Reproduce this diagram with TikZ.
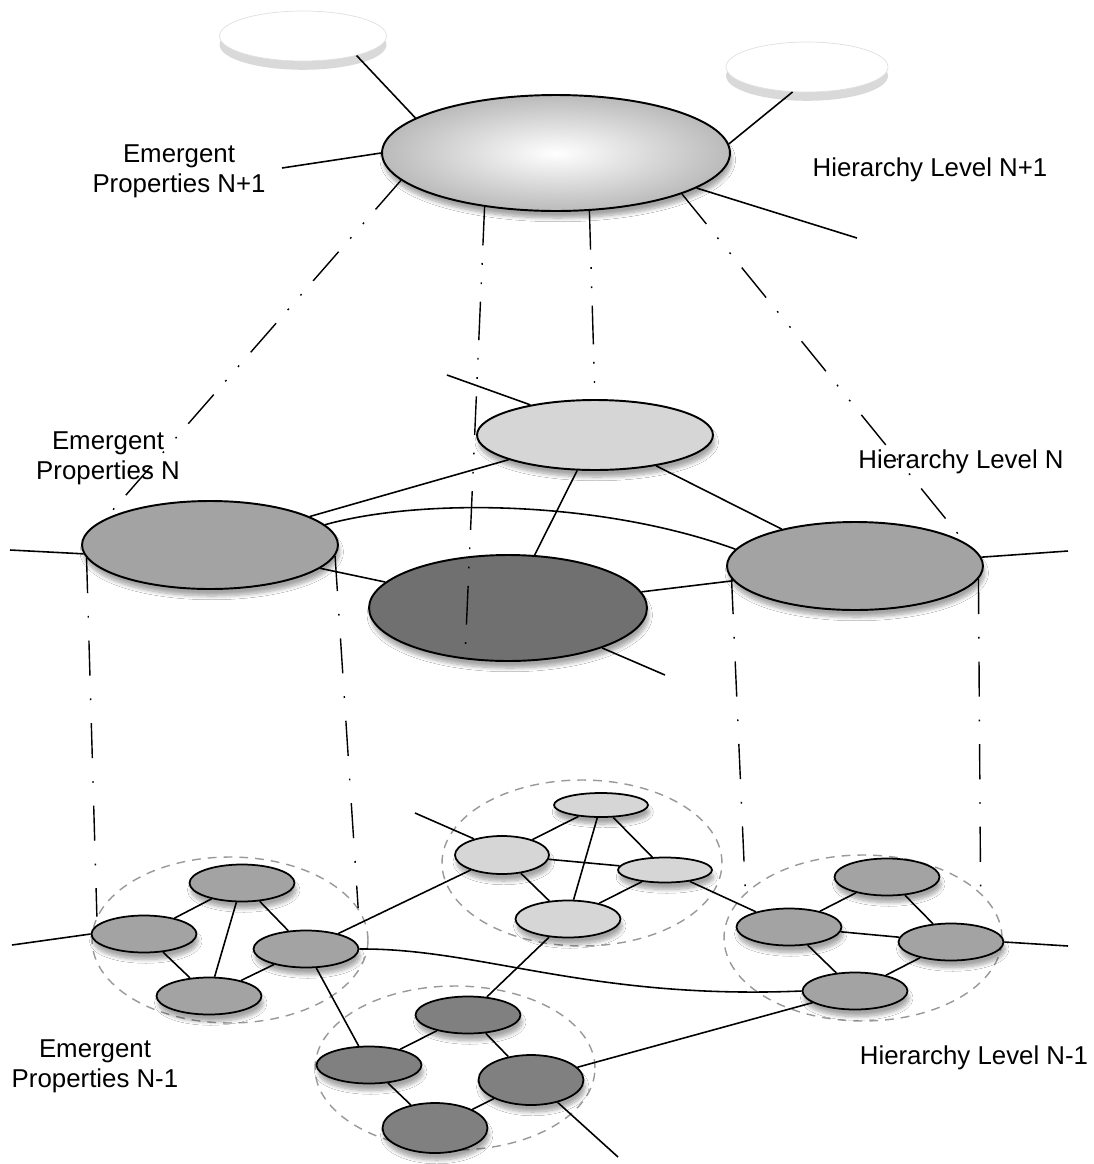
\documentclass[tikz,border=0pt]{standalone}
\usepackage{fontspec}
\setmainfont{Liberation Sans}
\usetikzlibrary{shapes.geometric, shadows, shadows.blur}

\definecolor{lightnode}{gray}{0.84}
\definecolor{midnode}{gray}{0.64}
\definecolor{darknode}{gray}{0.44}
\definecolor{subdark}{gray}{0.50}

\begin{document}
\begin{tikzpicture}[
    x=0.02cm, y=-0.02cm,
    %% plain ellipse with a soft shadow underneath
    blob/.style={ellipse, draw=black, line width=1.1pt, inner sep=0pt,
                 blur shadow={shadow xshift=1pt, shadow yshift=-4pt,
                              shadow blur steps=8, shadow opacity=35}},
    ghost/.style={ellipse, draw=black!12, fill=white, inner sep=0pt,
                  minimum width=3.34cm, minimum height=1.0cm,
                  drop shadow={shadow xshift=0pt, shadow yshift=-5pt,
                               fill=black!15, opacity=1}},
    topnode/.style={blob, shading=radial, inner color=white, outer color=black!27,
                    minimum width=6.96cm, minimum height=2.32cm},
    subnode/.style={blob, line width=1pt, minimum width=2.1cm, minimum height=0.74cm},
    cluster/.style={ellipse, draw=black!40, line width=0.8pt, inner sep=0pt,
                    dash pattern=on 5pt off 4pt},
    link/.style={line width=0.9pt},
    proj/.style={line width=0.8pt,
                 dash pattern=on 22pt off 10pt on 1pt off 10pt on 1pt off 10pt},
    drop/.style={line width=0.8pt,
                 dash pattern=on 20pt off 13pt on 1pt off 13pt},
    lbl/.style={align=center, font=\fontsize{14.7}{17}\selectfont},
]

  \fill[white] (0,0) rectangle (1093,1164);
  \useasboundingbox (0,0) rectangle (1093,1164);

  %% ---- level N-1 : four dashed groups ----
  \node[cluster, minimum width=5.52cm, minimum height=3.32cm] (ca) at (230,940) {};
  \node[cluster, minimum width=5.6cm,  minimum height=3.32cm] (cb) at (582,863) {};
  \node[cluster, minimum width=5.6cm,  minimum height=3.28cm] (cc) at (455,1068) {};
  \node[cluster, minimum width=5.56cm, minimum height=3.32cm] (cd) at (863,938) {};

  \node[subnode, fill=midnode] (a1) at (242,883) {};
  \node[subnode, fill=midnode] (a2) at (144,934) {};
  \node[subnode, fill=midnode] (a3) at (306,949) {};
  \node[subnode, fill=midnode] (a4) at (209,996) {};

  \node[subnode, fill=lightnode, minimum width=1.88cm, minimum height=0.76cm] (b1) at (502,855) {};
  \node[subnode, fill=lightnode, minimum width=1.88cm, minimum height=0.48cm] (b2) at (601,805) {};
  \node[subnode, fill=lightnode, minimum width=1.88cm, minimum height=0.5cm]  (b3) at (665,870) {};
  \node[subnode, fill=lightnode] (b4) at (568,919) {};

  \node[subnode, fill=subdark] (c1) at (468,1015) {};
  \node[subnode, fill=subdark] (c2) at (369,1065) {};
  \node[subnode, fill=subdark, minimum height=1.0cm] (c3) at (531,1080) {};
  \node[subnode, fill=subdark, minimum height=1.0cm] (c4) at (435,1128) {};

  \node[subnode, fill=midnode] (d1) at (887,877) {};
  \node[subnode, fill=midnode] (d2) at (789,927) {};
  \node[subnode, fill=midnode] (d3) at (951,942) {};
  \node[subnode, fill=midnode] (d4) at (855,991) {};

  %% ---- level N ----
  \node[blob, fill=lightnode, minimum width=4.72cm, minimum height=1.4cm]  (nC) at (595,435) {};
  \node[blob, fill=midnode,   minimum width=5.12cm, minimum height=1.76cm] (nL) at (210,545) {};
  \node[blob, fill=darknode,  minimum width=5.56cm, minimum height=2.12cm] (nD) at (508,608) {};
  \node[blob, fill=midnode,   minimum width=5.12cm, minimum height=1.76cm] (nR) at (855,566) {};

  %% ---- level N+1 ----
  \node[ghost] (peerL) at (303,36) {};
  \node[ghost, minimum width=3.24cm] (peerR) at (807,67) {};
  \node[topnode] (top) at (556,153) {};

  %% ---- loose ends ----
  \coordinate (sTopL) at (282,168);
  \coordinate (sTopR) at (857,238);
  \coordinate (sC)    at (447,375);
  \coordinate (sL)    at (10,550);
  \coordinate (sR)    at (1068,551);
  \coordinate (sD)    at (665,675);
  \coordinate (sA)    at (12,945);
  \coordinate (sB)    at (415,813);
  \coordinate (sCc)   at (618,1157);
  \coordinate (sDd)   at (1068,946);

  %% ---- labels ----
  \node[lbl] (emTop) at (179,171)  {Emergent\\Properties N+1};
  \node[lbl] (hlTop) at (930,170)  {Hierarchy Level N+1};
  \node[lbl] (emMid) at (108,458)  {Emergent\\Properties N};
  \node[lbl] (hlMid) at (961,462)  {Hierarchy Level N};
  \node[lbl] (emLow) at (95,1066)  {Emergent\\Properties N-1};
  \node[lbl] (hlLow) at (974,1058) {Hierarchy Level N-1};

  %% ---- links, level N+1 ----
  \draw[link] (peerL.340) -- (top.166);
  \draw[link] (peerR.240) -- (top.3);
  \draw[link] (top.west) -- (sTopL);
  \draw[link] (top.346) -- (sTopR);

  %% ---- links, level N ----
  \draw[link] (nC.155) -- (sC);
  \draw[link] (nL) -- (nC);
  \draw[link] (nC) -- (nD);
  \draw[link] (nC) -- (nR);
  \draw[link] (nL) -- (nD);
  \draw[link] (nD) -- (nR);
  \draw[link] (nL.10) .. controls (420,498) and (600,500) .. (nR.172);
  \draw[link] (nL.184) -- (sL);
  \draw[link] (nR.4) -- (sR);
  \draw[link] (nD.337) -- (sD);

  %% ---- links, level N-1 ----
  \draw[link] (a1) -- (a2);
  \draw[link] (a1) -- (a3);
  \draw[link] (a1) -- (a4);
  \draw[link] (a2) -- (a4);
  \draw[link] (a3) -- (a4);
  \draw[link] (b1) -- (b2);
  \draw[link] (b1) -- (b3);
  \draw[link] (b1) -- (b4);
  \draw[link] (b2) -- (b3);
  \draw[link] (b2) -- (b4);
  \draw[link] (b3) -- (b4);
  \draw[link] (c1) -- (c2);
  \draw[link] (c1) -- (c3);
  \draw[link] (c2) -- (c4);
  \draw[link] (c3) -- (c4);
  \draw[link] (d1) -- (d2);
  \draw[link] (d1) -- (d3);
  \draw[link] (d2) -- (d3);
  \draw[link] (d2) -- (d4);
  \draw[link] (d3) -- (d4);
  \draw[link] (a3) -- (b1);
  \draw[link] (a3) -- (c2);
  \draw[link] (b3) -- (d2);
  \draw[link] (b4) -- (c1);
  \draw[link] (c3) -- (d4);
  \draw[link] (a3.east) .. controls (480,948) and (590,1000) .. (d4.west);
  \draw[link] (a2.west) -- (sA);
  \draw[link] (b1.150) -- (sB);
  \draw[link] (c3.320) -- (sCc);
  \draw[link] (d3.east) -- (sDd);

  %% ---- projections between levels ----
  \draw[proj] (top.190) -- (nL.166);
  \draw[proj] (top.217) -- (nD.230);
  \draw[proj] (top.300) -- (nC.north);
  \draw[proj] (top.342) -- (nR.12);
  \draw[drop] (nL.186) -- (ca.170);
  \draw[drop] (nL.355) -- (ca.14);
  \draw[drop] (nR.186) -- (cd.159);
  \draw[drop] (nR.354) -- (cd.21);

\end{tikzpicture}
\end{document}
